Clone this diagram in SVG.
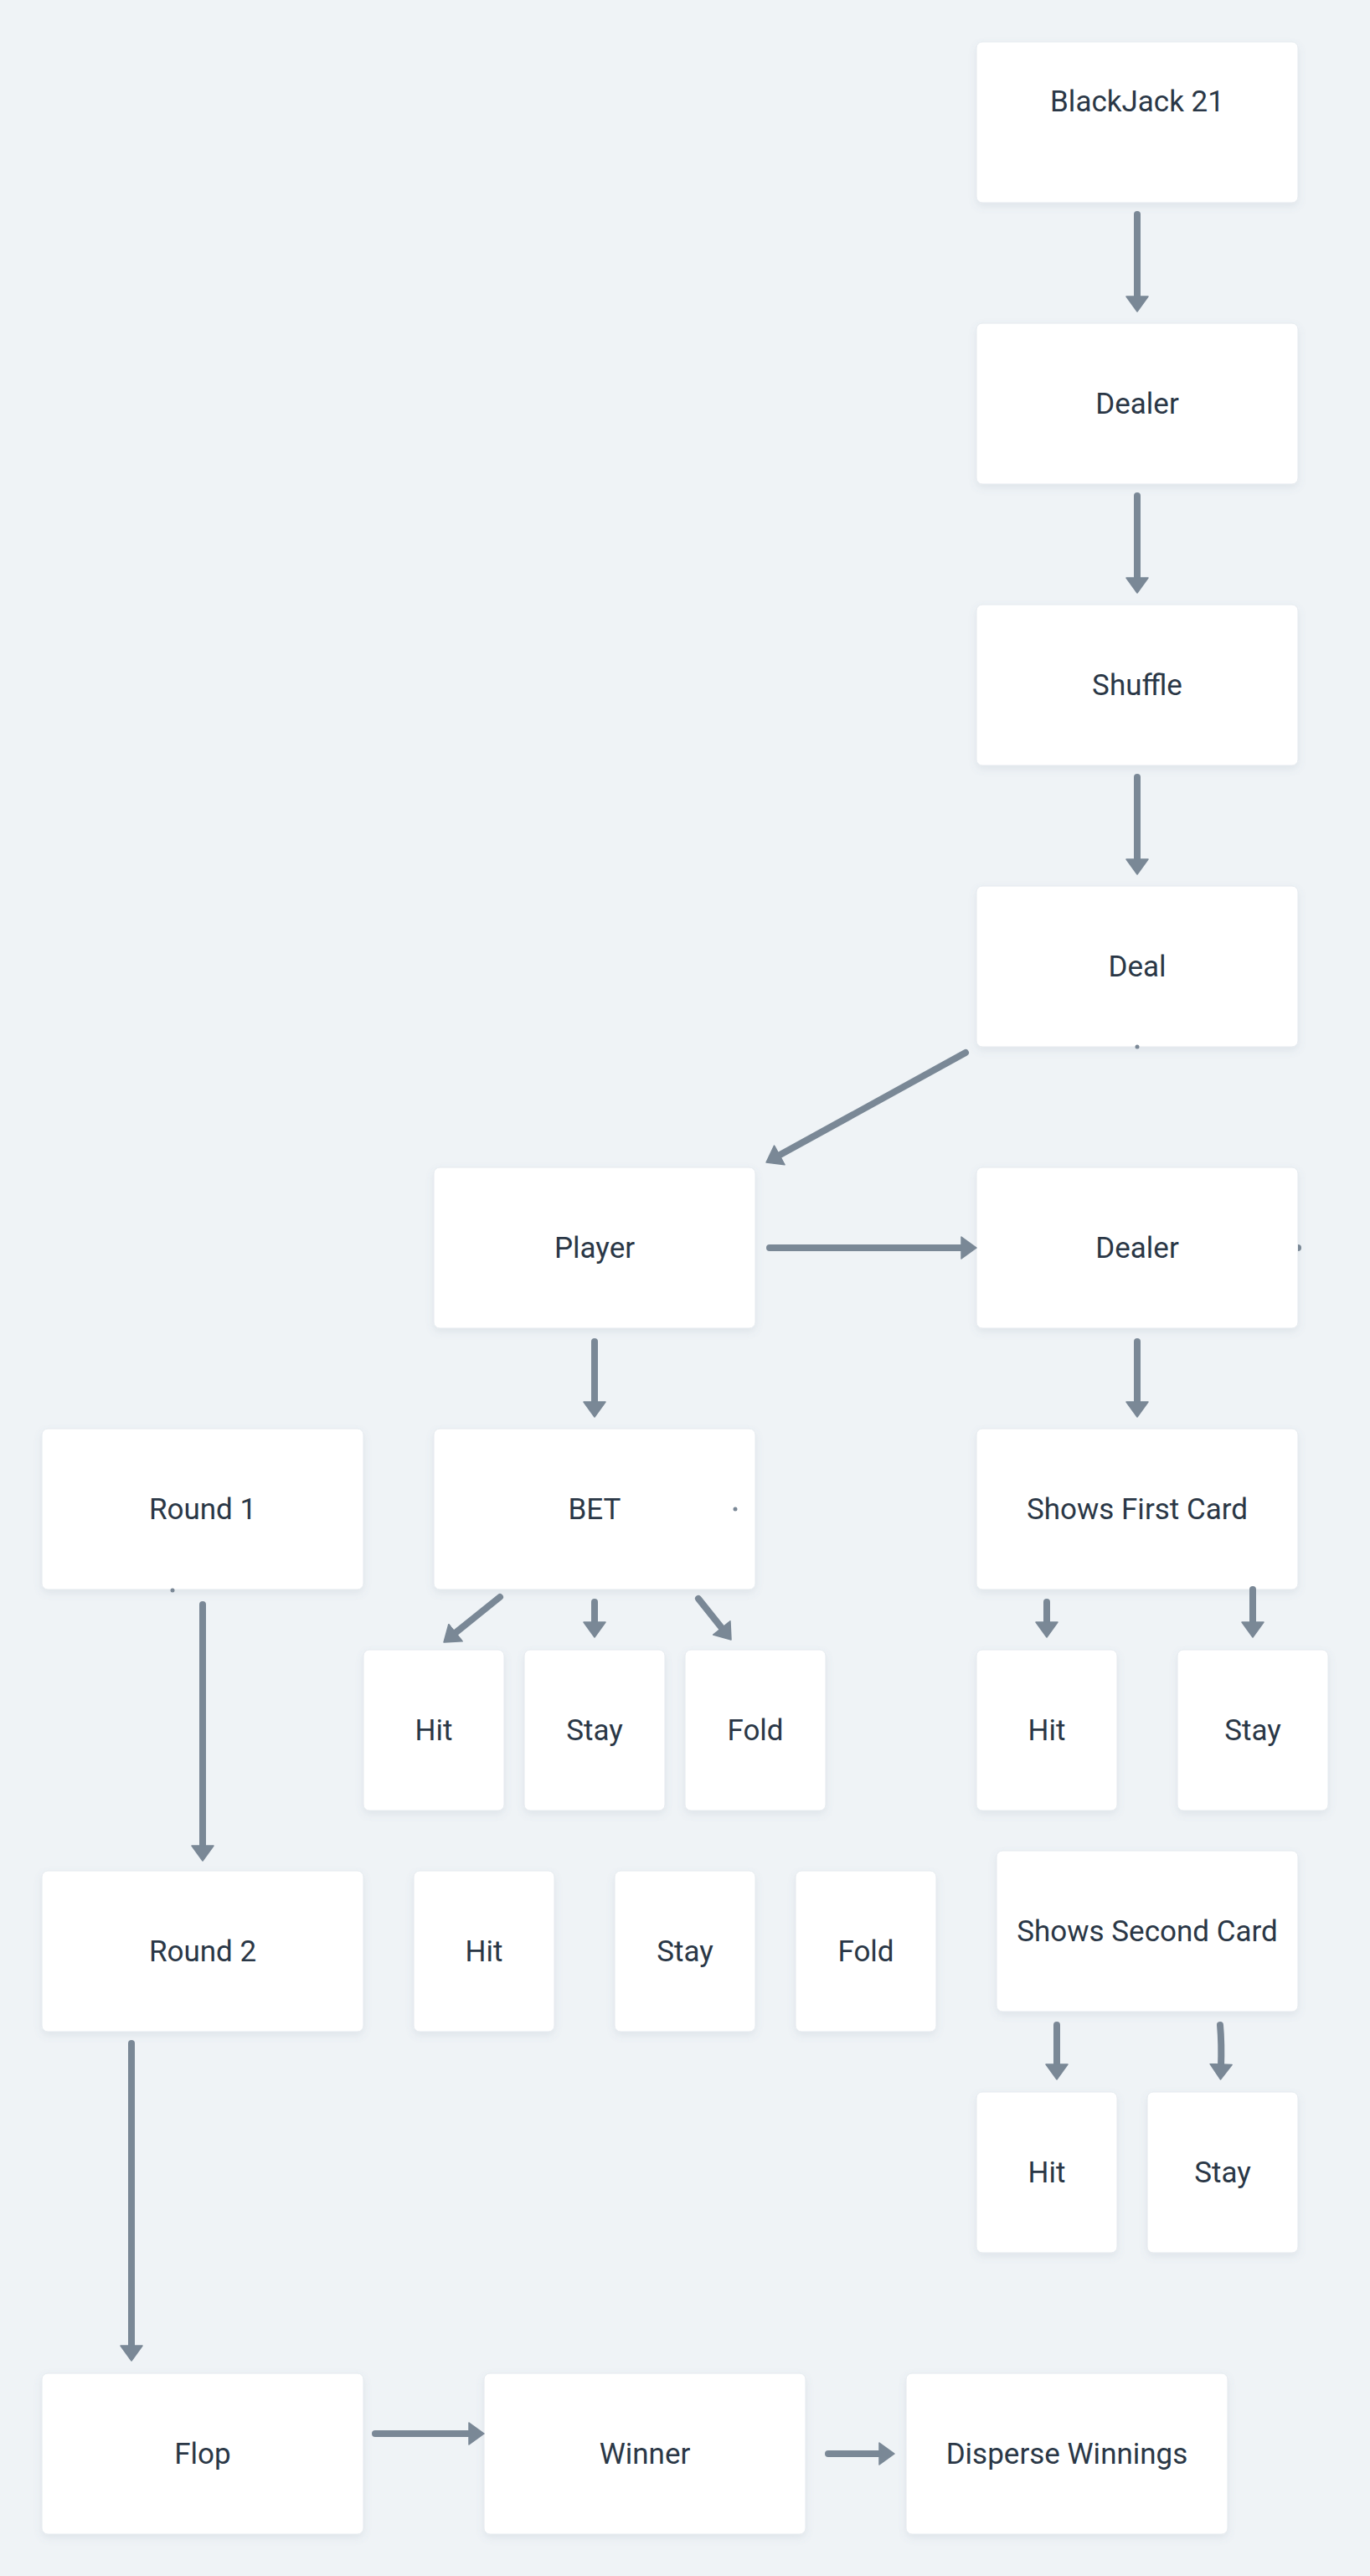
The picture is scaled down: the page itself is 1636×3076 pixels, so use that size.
<svg xmlns="http://www.w3.org/2000/svg" width="1636" height="3076" viewBox="0 0 1636 3076">
<style>
.node rect{fill:#ffffff;stroke:#e4e9ee;stroke-width:1;filter:url(#sh)}
.node text{font-family:Roboto,"Liberation Sans",sans-serif;font-size:35px;fill:#2a3746;text-anchor:middle}
.edge{fill:none;stroke:#7a8896;stroke-width:8;stroke-linecap:round;marker-end:url(#ah)}
.dot{fill:#7a8896}
</style>
<defs>
<filter id="sh" x="-10%" y="-10%" width="120%" height="130%">
<feDropShadow dx="0" dy="4" stdDeviation="5" flood-color="#6b7d90" flood-opacity="0.12"/>
</filter>
<marker id="ah" markerUnits="userSpaceOnUse" viewBox="-1 -1 20 28" markerWidth="20" markerHeight="28" refX="4" refY="13" orient="auto">
<path d="M0,0 L18,13 L0,26 Z" fill="#7a8896" stroke="#7a8896" stroke-width="1.5" stroke-linejoin="round"/>
</marker>
</defs>
<rect x="0" y="0" width="1636" height="3076" fill="#eff3f6"/>

<g id="n1" class="node"><rect x="1166" y="50" width="384" height="192" rx="7"/><text x="1358" y="133">BlackJack 21</text></g>
<g id="n2" class="node"><rect x="1166" y="386" width="384" height="192" rx="7"/><text x="1358" y="494">Dealer</text></g>
<g id="n3" class="node"><rect x="1166" y="722" width="384" height="192" rx="7"/><text x="1358" y="830">Shuffle</text></g>
<g id="n4" class="node"><rect x="1166" y="1058" width="384" height="192" rx="7"/><text x="1358" y="1166">Deal</text></g>
<g id="n5" class="node"><rect x="518" y="1394" width="384" height="192" rx="7"/><text x="710" y="1502">Player</text></g>
<g id="n6" class="node"><rect x="1166" y="1394" width="384" height="192" rx="7"/><text x="1358" y="1502">Dealer</text></g>
<g id="n7" class="node"><rect x="50" y="1706" width="384" height="192" rx="7"/><text x="242" y="1814">Round 1</text></g>
<g id="n8" class="node"><rect x="518" y="1706" width="384" height="192" rx="7"/><text x="710" y="1814">BET</text></g>
<g id="n9" class="node"><rect x="1166" y="1706" width="384" height="192" rx="7"/><text x="1358" y="1814">Shows First Card</text></g>
<g id="n10" class="node"><rect x="434" y="1970" width="168" height="192" rx="7"/><text x="518" y="2078">Hit</text></g>
<g id="n11" class="node"><rect x="626" y="1970" width="168" height="192" rx="7"/><text x="710" y="2078">Stay</text></g>
<g id="n12" class="node"><rect x="818" y="1970" width="168" height="192" rx="7"/><text x="902" y="2078">Fold</text></g>
<g id="n13" class="node"><rect x="1166" y="1970" width="168" height="192" rx="7"/><text x="1250" y="2078">Hit</text></g>
<g id="n14" class="node"><rect x="1406" y="1970" width="180" height="192" rx="7"/><text x="1496" y="2078">Stay</text></g>
<g id="n15" class="node"><rect x="50" y="2234" width="384" height="192" rx="7"/><text x="242" y="2342">Round 2</text></g>
<g id="n16" class="node"><rect x="494" y="2234" width="168" height="192" rx="7"/><text x="578" y="2342">Hit</text></g>
<g id="n17" class="node"><rect x="734" y="2234" width="168" height="192" rx="7"/><text x="818" y="2342">Stay</text></g>
<g id="n18" class="node"><rect x="950" y="2234" width="168" height="192" rx="7"/><text x="1034" y="2342">Fold</text></g>
<g id="n19" class="node"><rect x="1190" y="2210" width="360" height="192" rx="7"/><text x="1370" y="2318">Shows Second Card</text></g>
<g id="n20" class="node"><rect x="1166" y="2498" width="168" height="192" rx="7"/><text x="1250" y="2606">Hit</text></g>
<g id="n21" class="node"><rect x="1370" y="2498" width="180" height="192" rx="7"/><text x="1460" y="2606">Stay</text></g>
<g id="n22" class="node"><rect x="50" y="2834" width="384" height="192" rx="7"/><text x="242" y="2942">Flop</text></g>
<g id="n23" class="node"><rect x="578" y="2834" width="384" height="192" rx="7"/><text x="770" y="2942">Winner</text></g>
<g id="n24" class="node"><rect x="1082" y="2834" width="384" height="192" rx="7"/><text x="1274" y="2942">Disperse Winnings</text></g>

<g id="connectors">
<line class="edge" x1="1358" y1="256" x2="1358" y2="358"/>
<line class="edge" x1="1358" y1="592" x2="1358" y2="694"/>
<line class="edge" x1="1358" y1="928" x2="1358" y2="1030"/>
<line class="edge" x1="1153" y1="1257" x2="927.3" y2="1381.3"/>
<line class="edge" x1="919" y1="1490" x2="1152" y2="1490"/>
<line class="edge" x1="710" y1="1602" x2="710" y2="1678"/>
<line class="edge" x1="1358" y1="1602" x2="1358" y2="1678"/>
<line class="edge" x1="597" y1="1907" x2="540.9" y2="1952.2"/>
<line class="edge" x1="710" y1="1913" x2="710" y2="1941"/>
<line class="edge" x1="834" y1="1909" x2="864.3" y2="1947"/>
<line class="edge" x1="1250" y1="1913" x2="1250" y2="1941"/>
<line class="edge" x1="1496" y1="1898" x2="1496" y2="1941"/>
<line class="edge" x1="242" y1="1916" x2="242" y2="2208"/>
<line class="edge" x1="157" y1="2440" x2="157" y2="2805"/>
<line class="edge" x1="1262" y1="2418" x2="1262" y2="2469"/>
<path class="edge" d="M1457,2418 Q1459,2440 1458,2469"/>
<line class="edge" x1="448" y1="2906" x2="564" y2="2906"/>
<line class="edge" x1="989" y1="2930" x2="1054" y2="2930"/>
<circle class="dot" cx="1358" cy="1250" r="2.5"/>
<circle class="dot" cx="878" cy="1802" r="2.5"/>
<circle class="dot" cx="206" cy="1899" r="2.5"/>
<path class="dot" d="M1550,1486 a4,4 0 0 1 0,8 Z"/>
</g>
</svg>
